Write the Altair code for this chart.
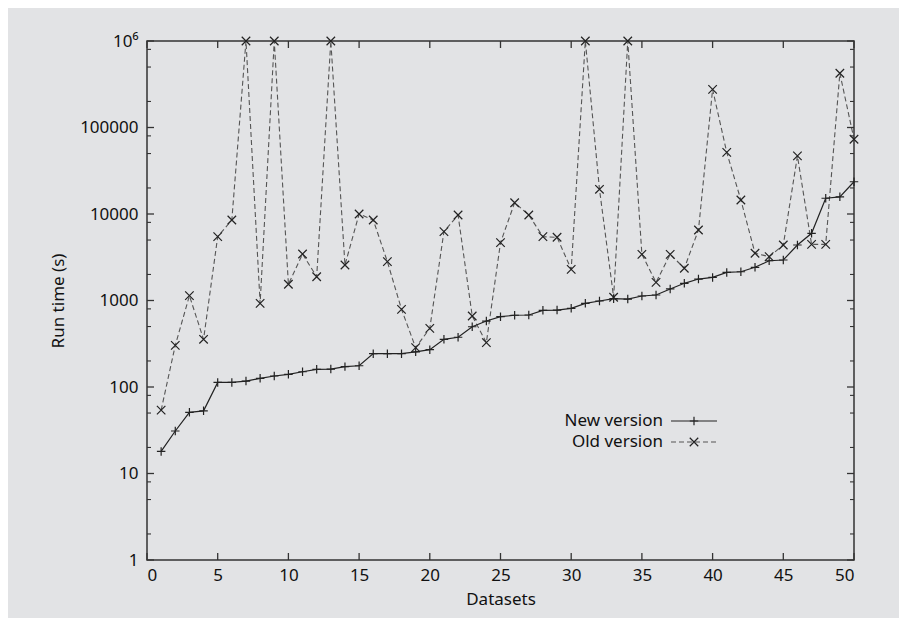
import altair as alt
import pandas as pd

# ---- data ----
datasets = list(range(1, 51))
new_version = [18, 31, 51, 53, 113, 113, 117, 126, 134, 140,
               150, 160, 161, 172, 176, 243, 243, 243, 255, 270,
               356, 376, 497, 579, 650, 675, 680, 770, 776, 812,
               927, 987, 1050, 1040, 1128, 1158, 1360, 1580, 1770, 1850,
               2110, 2150, 2420, 2880, 2940, 4380, 5980, 15200, 15800, 23600]
old_version = [54, 303, 1137, 356, 5470, 8530, 1e6, 927, 1e6, 1540,
               3450, 1880, 1e6, 2570, 10000, 8530, 2810, 791, 285, 477,
               6250, 9730, 662, 326, 4660, 13500, 9730, 5470, 5380, 2290,
               1e6, 19300, 1090, 1e6, 3420, 1620, 3420, 2360, 6530, 276000,
               51600, 14500, 3520, 3210, 4380, 46900, 4460, 4460, 424000, 73100]
series_names = ["New version", "Old version"]
x_ticks = list(range(0, 51, 5))
y_major = [1, 10, 100, 1000, 10000, 100000, 1000000]
y_minor = [m * d for d in [1, 10, 100, 1000, 10000, 100000] for m in (2, 5, 8)]

W, H = 707, 519
FONT = "Noto Sans"
BG = "#e2e3e5"
PLUS = "M-1,0L1,0M0,-1L0,1"
CROSS = "M-1,-1L1,1M-1,1L1,-1"

new_df = pd.DataFrame({"d": datasets, "t": new_version})
old_df = pd.DataFrame({"d": datasets, "t": old_version})

xs = alt.Scale(domain=[0, 50], nice=False, zero=False)
ys = alt.Scale(type="log", domain=[1, 1000000], nice=False)

X = alt.X("d:Q", scale=xs, title="Datasets",
          axis=alt.Axis(values=x_ticks, ticks=False, domain=False, grid=False,
                        labelPadding=7, titlePadding=8, format="d"))
Y = alt.Y("t:Q", scale=ys, title="Run time (s)",
          axis=alt.Axis(values=y_major, ticks=False, domain=False, grid=False,
                        labelPadding=9, titlePadding=12,
                        labelExpr="datum.value >= 1000000 ? '10⁶' : format(datum.value, 'd')"))

old_line = alt.Chart(old_df).mark_line(color="#555", strokeWidth=1.1, strokeDash=[5, 3]).encode(x=X, y=Y)
old_pts = alt.Chart(old_df).mark_point(shape=CROSS, filled=False, size=72, strokeWidth=1.2,
                                       color="#222", opacity=1).encode(x=X, y=Y)
new_line = alt.Chart(new_df).mark_line(color="#222", strokeWidth=1.2).encode(x=X, y=Y)
new_pts = alt.Chart(new_df).mark_point(shape=PLUS, filled=False, size=72, strokeWidth=1.2,
                                       color="#222", opacity=1).encode(x=X, y=Y)

# inward ticks on all four sides
xt = pd.DataFrame({"d": x_ticks})
ymaj = pd.DataFrame({"t": y_major})
ymin = pd.DataFrame({"t": y_minor})
tick_col = "#333"
xb = alt.Chart(xt).mark_rule(color=tick_col, strokeWidth=1.3).encode(
    x=alt.X("d:Q", scale=xs), y=alt.value(H), y2=alt.value(H - 7))
xtp = alt.Chart(xt).mark_rule(color=tick_col, strokeWidth=1.3).encode(
    x=alt.X("d:Q", scale=xs), y=alt.value(0), y2=alt.value(7))
yl = alt.Chart(ymaj).mark_rule(color=tick_col, strokeWidth=1.3).encode(
    y=alt.Y("t:Q", scale=ys), x=alt.value(0), x2=alt.value(7))
yr = alt.Chart(ymaj).mark_rule(color=tick_col, strokeWidth=1.3).encode(
    y=alt.Y("t:Q", scale=ys), x=alt.value(W), x2=alt.value(W - 7))
yln = alt.Chart(ymin).mark_rule(color=tick_col, strokeWidth=1.1).encode(
    y=alt.Y("t:Q", scale=ys), x=alt.value(0), x2=alt.value(4))
yrn = alt.Chart(ymin).mark_rule(color=tick_col, strokeWidth=1.1).encode(
    y=alt.Y("t:Q", scale=ys), x=alt.value(W), x2=alt.value(W - 4))

# legend (label left of sample, as in the reference)
def legend_entry(name, ypix, dashed, shape, lcolor):
    df = pd.DataFrame({"label": [name]})
    txt = alt.Chart(df).mark_text(align="right", baseline="middle", font=FONT,
                                  fontSize=17, color="#111").encode(
        text="label:N", x=alt.value(516), y=alt.value(ypix))
    rule_kw = dict(color=lcolor, strokeWidth=1.2)
    if dashed:
        rule_kw["strokeDash"] = [5, 3]
    ln = alt.Chart(df).mark_rule(**rule_kw).encode(
        x=alt.value(524), x2=alt.value(570), y=alt.value(ypix))
    pt = alt.Chart(df).mark_point(shape=shape, filled=False, size=72, strokeWidth=1.2,
                                  color="#222", opacity=1).encode(
        x=alt.value(547), y=alt.value(ypix))
    return [txt, ln, pt]

legend = legend_entry(series_names[0], 380, False, PLUS, "#222") + \
         legend_entry(series_names[1], 401, True, CROSS, "#555")

chart = alt.layer(old_line, old_pts, new_line, new_pts, xb, xtp, yl, yr, yln, yrn, *legend).properties(
    width=W, height=H,
    autosize=alt.AutoSizeParams(type="none"),
    padding={"left": 139, "top": 33, "right": 45, "bottom": 58},
    background=BG,
).configure_view(
    stroke="#333", strokeWidth=1.5, fill=BG
).configure_axis(
    labelFont=FONT, labelFontSize=17, labelColor="#111",
    titleFont=FONT, titleFontSize=17, titleFontWeight="normal", titleColor="#111",
)

chart.save("out.html", embed_options={"renderer": "svg", "actions": False})
